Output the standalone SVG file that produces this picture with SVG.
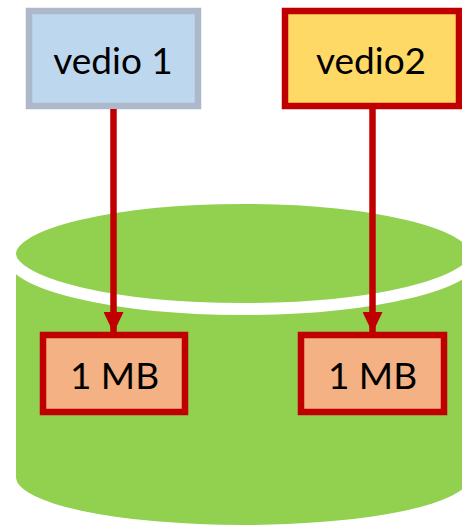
<svg xmlns="http://www.w3.org/2000/svg" width="462" height="526" viewBox="0 0 462 526">
<style>
.lbl{font-family:"Lato","Liberation Sans",sans-serif;font-size:37px;fill:#000;text-anchor:middle}
.mb{fill:#F4B183;stroke:#C00000;stroke-width:6.5}
.conn{stroke:#C00000;stroke-width:6.5;fill:none}
</style>
<defs>
<marker id="ah" markerUnits="userSpaceOnUse" markerWidth="22" markerHeight="20" refX="21" refY="10" orient="auto">
<path d="M0,0 L21,10 L0,20 Z" fill="#C00000"/>
</marker>
</defs>
<g id="disk">
<path d="M16,254 L16,477 A227,48 0 0 0 470,477 L470,254 Z" fill="#92D050"/>
<ellipse cx="243" cy="253.5" rx="233" ry="55.5" fill="#92D050" stroke="#FFFFFF" stroke-width="12"/>
</g>
<g id="vedio1">
<rect x="29" y="11" width="169" height="95" fill="#BDD7EE" stroke="#ADB9CA" stroke-width="6.5"/>
<text class="lbl" x="113" y="74">vedio 1</text>
</g>
<g id="vedio2">
<rect x="285" y="11" width="174" height="95" fill="#FFD966" stroke="#C00000" stroke-width="6.5"/>
<text class="lbl" x="371" y="74">vedio2</text>
</g>
<g id="block1">
<rect class="mb" x="43" y="335" width="142" height="77"/>
<text class="lbl" x="114.5" y="389">1 MB</text>
</g>
<g id="block2">
<rect class="mb" x="301" y="335" width="143" height="77"/>
<text class="lbl" x="372.5" y="389">1 MB</text>
</g>
<g id="connectors">
<line class="conn" x1="113.5" y1="109" x2="113.5" y2="333" marker-end="url(#ah)"/>
<line class="conn" x1="372.5" y1="109" x2="372.5" y2="333" marker-end="url(#ah)"/>
</g>
</svg>
